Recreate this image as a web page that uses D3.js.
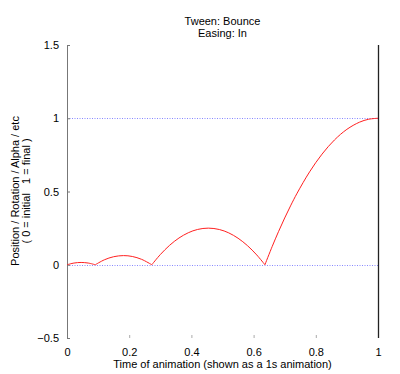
<!DOCTYPE html>
<html>
<head>
<meta charset="utf-8">
<script src="https://cdn.jsdelivr.net/npm/d3@7"></script>
<style>
  body { margin: 0; background: #fff; }
  svg text { font-family: "Liberation Sans", Arial, sans-serif; font-size: 11px; fill: #000; }
  .y-title { white-space: pre; }
</style>
</head>
<body>
<div id="chart"></div>
<script>
// values (bounce-in easing)
const timeValues = [
    0, 0.0227, 0.0455, 0.0682, 0.0909,
    0.12, 0.15, 0.1818, 0.21, 0.24, 0.2727,
    0.30, 0.33, 0.36, 0.39, 0.42, 0.4545, 0.49, 0.52, 0.55, 0.58, 0.61, 0.6364,
    0.66, 0.68, 0.70, 0.72, 0.74, 0.78, 0.82, 0.86, 0.90, 0.94, 0.97, 1.0
];
const easeValues = [
    0, 0.0117, 0.0156, 0.0117, 0,
    0.0336, 0.0549, 0.0625, 0.0565, 0.0369, 0,
    0.0694, 0.1328, 0.1825, 0.2185, 0.2410, 0.25, 0.2405, 0.2176, 0.1810, 0.1309, 0.0671, 0,
    0.1258, 0.2256, 0.3194, 0.4071, 0.4888, 0.6340, 0.7550, 0.8518, 0.9244, 0.9728, 0.9932, 1.0
];
const xTicks = [0, 0.2, 0.4, 0.6, 0.8, 1];
const yTicks = [-0.5, 0, 0.5, 1, 1.5];
const refLines = [0, 1];
const titleLines = ["Tween: Bounce", "Easing: In"];
const yTitleLines = ["Position / Rotation / Alpha / etc", "( 0 = initial   1 = final )"];
const xTitle = "Time of animation (shown as a 1s animation)";

const width = 400, height = 374;
const margin = { top: 45, right: 22, bottom: 36, left: 67 };
const innerW = width - margin.left - margin.right;
const innerH = height - margin.top - margin.bottom;

const svg = d3.select("#chart").append("svg")
    .attr("width", width)
    .attr("height", height);

const chart = svg.append("g")
    .attr("transform", `translate(${margin.left},${margin.top})`);

const xScale = d3.scaleLinear().domain([0, 1]).range([0, innerW]);
const yScale = d3.scaleLinear().domain([-0.5, 1.5]).range([innerH, 0]);

// reference lines
chart.selectAll(".ref-line").data(refLines).enter()
    .append("line")
    .attr("class", "ref-line")
    .attr("x1", 0).attr("x2", innerW)
    .attr("y1", d => Math.round(yScale(d)) + 0.5)
    .attr("y2", d => Math.round(yScale(d)) + 0.5)
    .attr("stroke", "#8888ff")
    .attr("stroke-width", 1)
    .attr("stroke-dasharray", "1,1.5");

// axes
const xAxis = d3.axisBottom(xScale).tickValues(xTicks).tickSize(-3).tickPadding(10)
    .tickFormat(d3.format("~g"));
const yAxis = d3.axisLeft(yScale).tickValues(yTicks).tickSize(-3).tickPadding(8)
    .tickFormat(d3.format("~g"));

const xAxisG = chart.append("g")
    .attr("transform", `translate(0,${innerH})`)
    .call(xAxis);
xAxisG.select(".domain").remove();
xAxisG.selectAll(".tick line").attr("stroke", "#aaa");
xAxisG.selectAll(".tick text").attr("font-size", 11).attr("font-family", "Liberation Sans, Arial, sans-serif");

const yAxisG = chart.append("g").call(yAxis);
yAxisG.select(".domain").attr("stroke", "#777").attr("d", `M0.5,0V${innerH}`);
yAxisG.selectAll(".tick line").attr("stroke", "#777");
yAxisG.selectAll(".tick text").attr("font-size", 11).attr("font-family", "Liberation Sans, Arial, sans-serif");

// right border
chart.append("line")
    .attr("x1", innerW + 0.5).attr("x2", innerW + 0.5)
    .attr("y1", 0).attr("y2", innerH)
    .attr("stroke", "#222")
    .attr("stroke-width", 1.3);

// curve, split into bounce arcs at the zero touches
const points = timeValues.map((t, i) => ({ t, v: easeValues[i] }));
const arcs = [];
let current = [];
points.forEach((p, i) => {
    current.push(p);
    if (p.v === 0 && i > 0) {
        arcs.push(current);
        current = [p];
    }
});
if (current.length > 1) arcs.push(current);

const line = d3.line()
    .x(d => xScale(d.t))
    .y(d => yScale(d.v))
    .curve(d3.curveCatmullRom);

chart.selectAll(".ease-line").data(arcs).enter()
    .append("path")
    .attr("class", "ease-line")
    .attr("fill", "none")
    .attr("stroke", "#ff2020")
    .attr("stroke-width", 1)
    .attr("d", line);

// titles
svg.selectAll(".title").data(titleLines).enter()
    .append("text")
    .attr("class", "title")
    .attr("x", margin.left + innerW / 2)
    .attr("y", (d, i) => 25 + i * 12)
    .attr("text-anchor", "middle")
    .text(d => d);

svg.append("text")
    .attr("x", margin.left + innerW / 2)
    .attr("y", 368)
    .attr("text-anchor", "middle")
    .text(xTitle);

svg.selectAll(".y-title").data(yTitleLines).enter()
    .append("text")
    .attr("class", "y-title")
    .attr("xml:space", "preserve")
    .attr("transform", (d, i) => `translate(${19 + i * 11},191) rotate(-90)`)
    .attr("text-anchor", "middle")
    .text(d => d);
</script>
</body>
</html>
